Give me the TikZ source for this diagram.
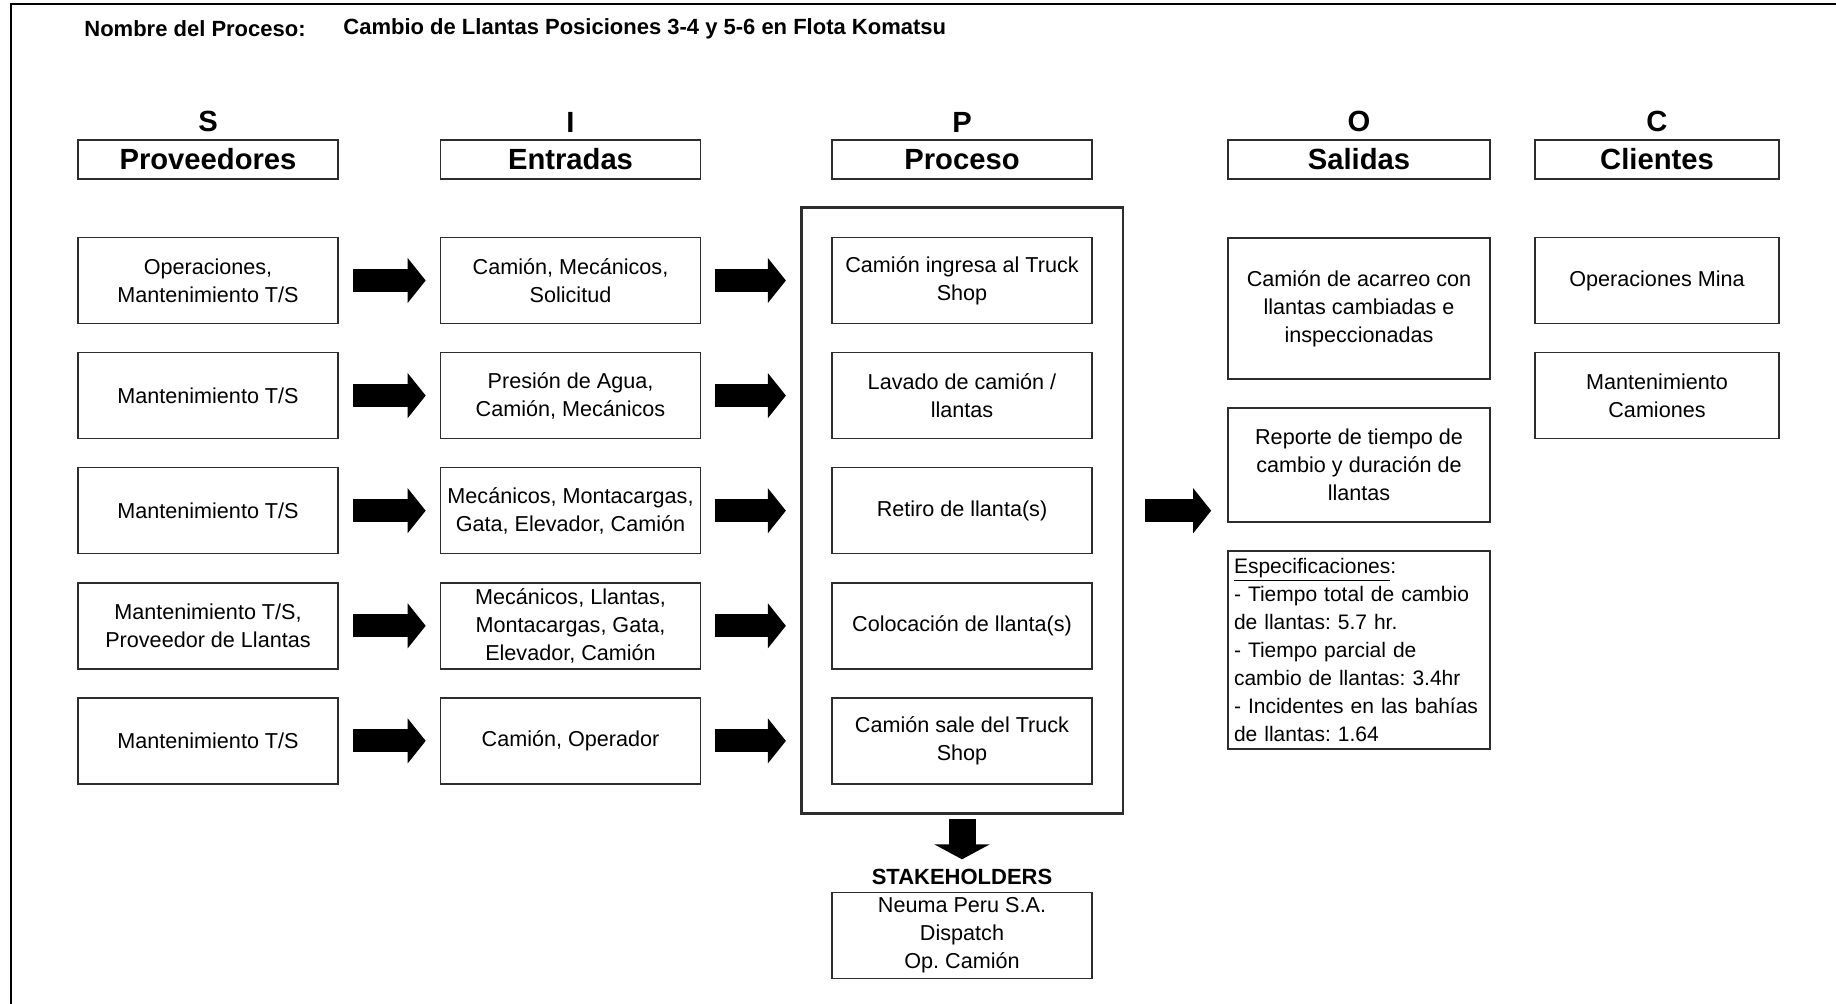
\documentclass[tikz,border=0pt]{standalone}
\usepackage{fontspec}
\setmainfont{Liberation Sans}
\usepackage{tikz}
\usetikzlibrary{arrows.meta,positioning,fit}
\definecolor{sipocline}{RGB}{45,45,45}
\frenchspacing

\begin{document}
\begin{tikzpicture}[x=0.5pt,y=-0.5pt, node distance=13.75pt,
    every node/.style={font=\fontsize{10.8}{14}\selectfont},
    box/.style={draw=sipocline,line width=0.8pt,minimum width=130pt,minimum height=43pt,align=center,inner sep=2pt},
    head/.style={box,minimum height=19.5pt,font=\fontsize{14.6}{17}\selectfont\bfseries},
    letter/.style={inner sep=0pt,font=\fontsize{14.6}{17}\selectfont\bfseries},
    title/.style={inner sep=0pt,anchor=west,font=\fontsize{11}{13}\selectfont\bfseries},
    fat/.style={line width=11.5pt,-{Triangle[length=9pt,width=22pt]},shorten <=7pt,shorten >=7pt}]
    \useasboundingbox (0,0) rectangle (1836,1004);
    \draw[line width=1pt] (11,1004) -- (11,4) -- (1836,4);
    \node[title] (tname) at (84,29) {Nombre del Proceso:};
    \node[title] (tval) at (343,29) {Cambio de Llantas Posiciones 3-4 y 5-6 en Flota Komatsu};
    % encabezados
    \node[head] (hS) at (208,159.5) {Proveedores};
    \node[head] (hI) at (570.5,159.5) {Entradas};
    \node[head] (hP) at (962,159.5) {Proceso};
    \node[head,minimum width=131pt] (hO) at (1359,159.5) {Salidas};
    \node[head,minimum width=122pt] (hC) at (1657,159.5) {Clientes};
    \foreach \c in {S,I,P,O,C} \node[letter,above=3.3pt of h\c] (l\c) {\c};
    % proveedores
    \node[box] (s1) at (208,280.5) {Operaciones,\\Mantenimiento T/S};
    \node[box,below=of s1] (s2) {Mantenimiento T/S};
    \node[box,below=of s2] (s3) {Mantenimiento T/S};
    \node[box,below=of s3] (s4) {Mantenimiento T/S,\\Proveedor de Llantas};
    \node[box,below=of s4] (s5) {Mantenimiento T/S};
    % entradas
    \node[box] (i1) at (570.5,280.5) {Camión, Mecánicos,\\Solicitud};
    \node[box,below=of i1] (i2) {Presión de Agua,\\Camión, Mecánicos};
    \node[box,below=of i2] (i3) {Mecánicos, Montacargas,\\Gata, Elevador, Camión};
    \node[box,below=of i3] (i4) {Mecánicos, Llantas,\\Montacargas, Gata,\\Elevador, Camión};
    \node[box,below=of i4] (i5) {Camión, Operador};
    % proceso
    \node[box] (p1) at (962,280.5) {Camión ingresa al Truck\\Shop};
    \node[box,below=of p1] (p2) {Lavado de camión /\\llantas};
    \node[box,below=of p2] (p3) {Retiro de llanta(s)};
    \node[box,below=of p3] (p4) {Colocación de llanta(s)};
    \node[box,below=of p4] (p5) {Camión sale del Truck\\Shop};
    \node[draw=sipocline,line width=1.3pt,fit=(p1)(p5),inner xsep=15pt,inner ysep=14.5pt] (proc) {};
    % salidas
    \node[box,minimum width=131pt,minimum height=70.5pt] (o1) at (1359,308.5) {Camión de acarreo con\\llantas cambiadas e\\inspeccionadas};
    \node[box,minimum width=131pt,minimum height=57pt,below=of o1] (o2) {Reporte de tiempo de\\cambio y duración de\\llantas};
    \node[box,text width=125pt,inner xsep=3pt,inner ysep=3pt,minimum height=99pt,align=left,font=\fontsize{10.5}{14}\selectfont,below=of o2] (o3) {\underline{Especificaciones}:\\- Tiempo total de cambio\\de llantas: 5.7 hr.\\- Tiempo parcial de\\cambio de llantas: 3.4hr\\- Incidentes en las bahías\\de llantas: 1.64};
    % clientes
    \node[box,minimum width=122pt] (c1) at (1657,280.5) {Operaciones Mina};
    \node[box,minimum width=122pt,below=of c1] (c2) {Mantenimiento\\Camiones};
    % stakeholders
    \node[inner sep=0pt,font=\fontsize{11}{13}\selectfont\bfseries] (skl) at (962,876.5) {STAKEHOLDERS};
    \node[box,below=3.5pt of skl] (sk) {Neuma Peru S.A.\\Dispatch\\Op. Camión};
    \foreach \n in {1,...,5} {
      \draw[fat] (s\n) -- (i\n);
      \draw[fat] (i\n) -- (i\n -| proc.west);
    }
    \draw[fat,shorten <=10.5pt,shorten >=8pt] (proc.east) -- (proc.east -| o2.west);
    \draw[fat,line width=13.5pt,-{Triangle[length=7.5pt,width=27.5pt]},shorten <=2pt,shorten >=4.5pt] (proc) -- (skl);
  \end{tikzpicture}
\end{document}
